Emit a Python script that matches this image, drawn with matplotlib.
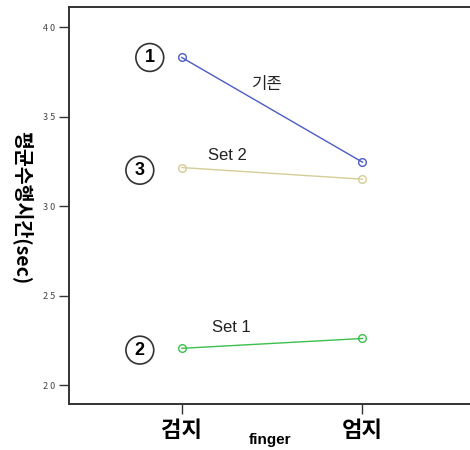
import matplotlib
matplotlib.use('Agg')
import matplotlib.pyplot as plt

plt.rcParams['font.family'] = ['Noto Sans CJK KR', 'DejaVu Sans']

fingers = ['검지', '엄지']
series_names = ['기존', 'Set 2', 'Set 1']
series_values = [
    [38.3, 32.45],
    [32.15, 31.5],
    [22.05, 22.6],
]
series_colors = ['#4a5cc4', '#d6cc96', '#3cbf4c']
circle_labels = ['1', '3', '2']
yticks = [20, 25, 30, 35, 40]

fig = plt.figure(figsize=(4.7, 4.5), dpi=100)
# axes run past the right edge, as in the original
ax = fig.add_axes([69 / 470, 46 / 450, 420 / 470, 397 / 450])

x = list(range(len(fingers)))
for vals, color in zip(series_values, series_colors):
    ax.plot(x, vals, color=color, lw=1.0, marker='o', ms=5.5,
            markerfacecolor='none', markeredgecolor=color, markeredgewidth=1.0)

# series names placed near each line
name_pos = [(0.475, 36.8), (0.254, 32.8), (0.276, 23.2)]
for name, (tx, ty) in zip(series_names, name_pos):
    ax.text(tx, ty, name, fontsize=12, ha='center', va='center', color='#222222',
            family=['Liberation Sans', 'Noto Sans CJK KR'])

# circled numbers in front of each line
circle_pos = [(-0.177, 38.3), (-0.232, 32.0), (-0.232, 21.95)]
for lab, (cx, cy) in zip(circle_labels, circle_pos):
    ax.text(cx, cy, lab, fontsize=13, fontweight='bold', ha='center', va='center',
            family='Liberation Sans',
            bbox=dict(boxstyle='circle,pad=0.3', fc='white', ec='#333333', lw=1.2))

ax.set_xlim(-0.624, 1.70)
ax.set_ylim(18.94, 41.12)
ax.set_xticks(x)
ax.set_xticklabels(fingers, fontsize=16, fontweight='bold')
ax.set_yticks(yticks)
ax.set_yticklabels([' '.join(str(t)) for t in yticks], fontsize=6.5, color='#444444')
ax.tick_params(axis='both', direction='out', length=7, width=1.0, color='#333333')
ax.tick_params(axis='x', pad=4)
ax.tick_params(axis='y', pad=3)
for s in ax.spines.values():
    s.set_linewidth(1.4)
    s.set_color('#333333')
ax.spines['right'].set_visible(False)

fig.text(270 / 470, 1 - 440 / 450, 'finger', fontsize=11, fontweight='bold',
         ha='center', va='center', family='Liberation Sans')
fig.text(22 / 470, 1 - 208 / 450, '평균수행시간(sec)', fontsize=14, fontweight='bold',
         rotation=270, ha='center', va='center')

fig.savefig('out.png', dpi=100)
